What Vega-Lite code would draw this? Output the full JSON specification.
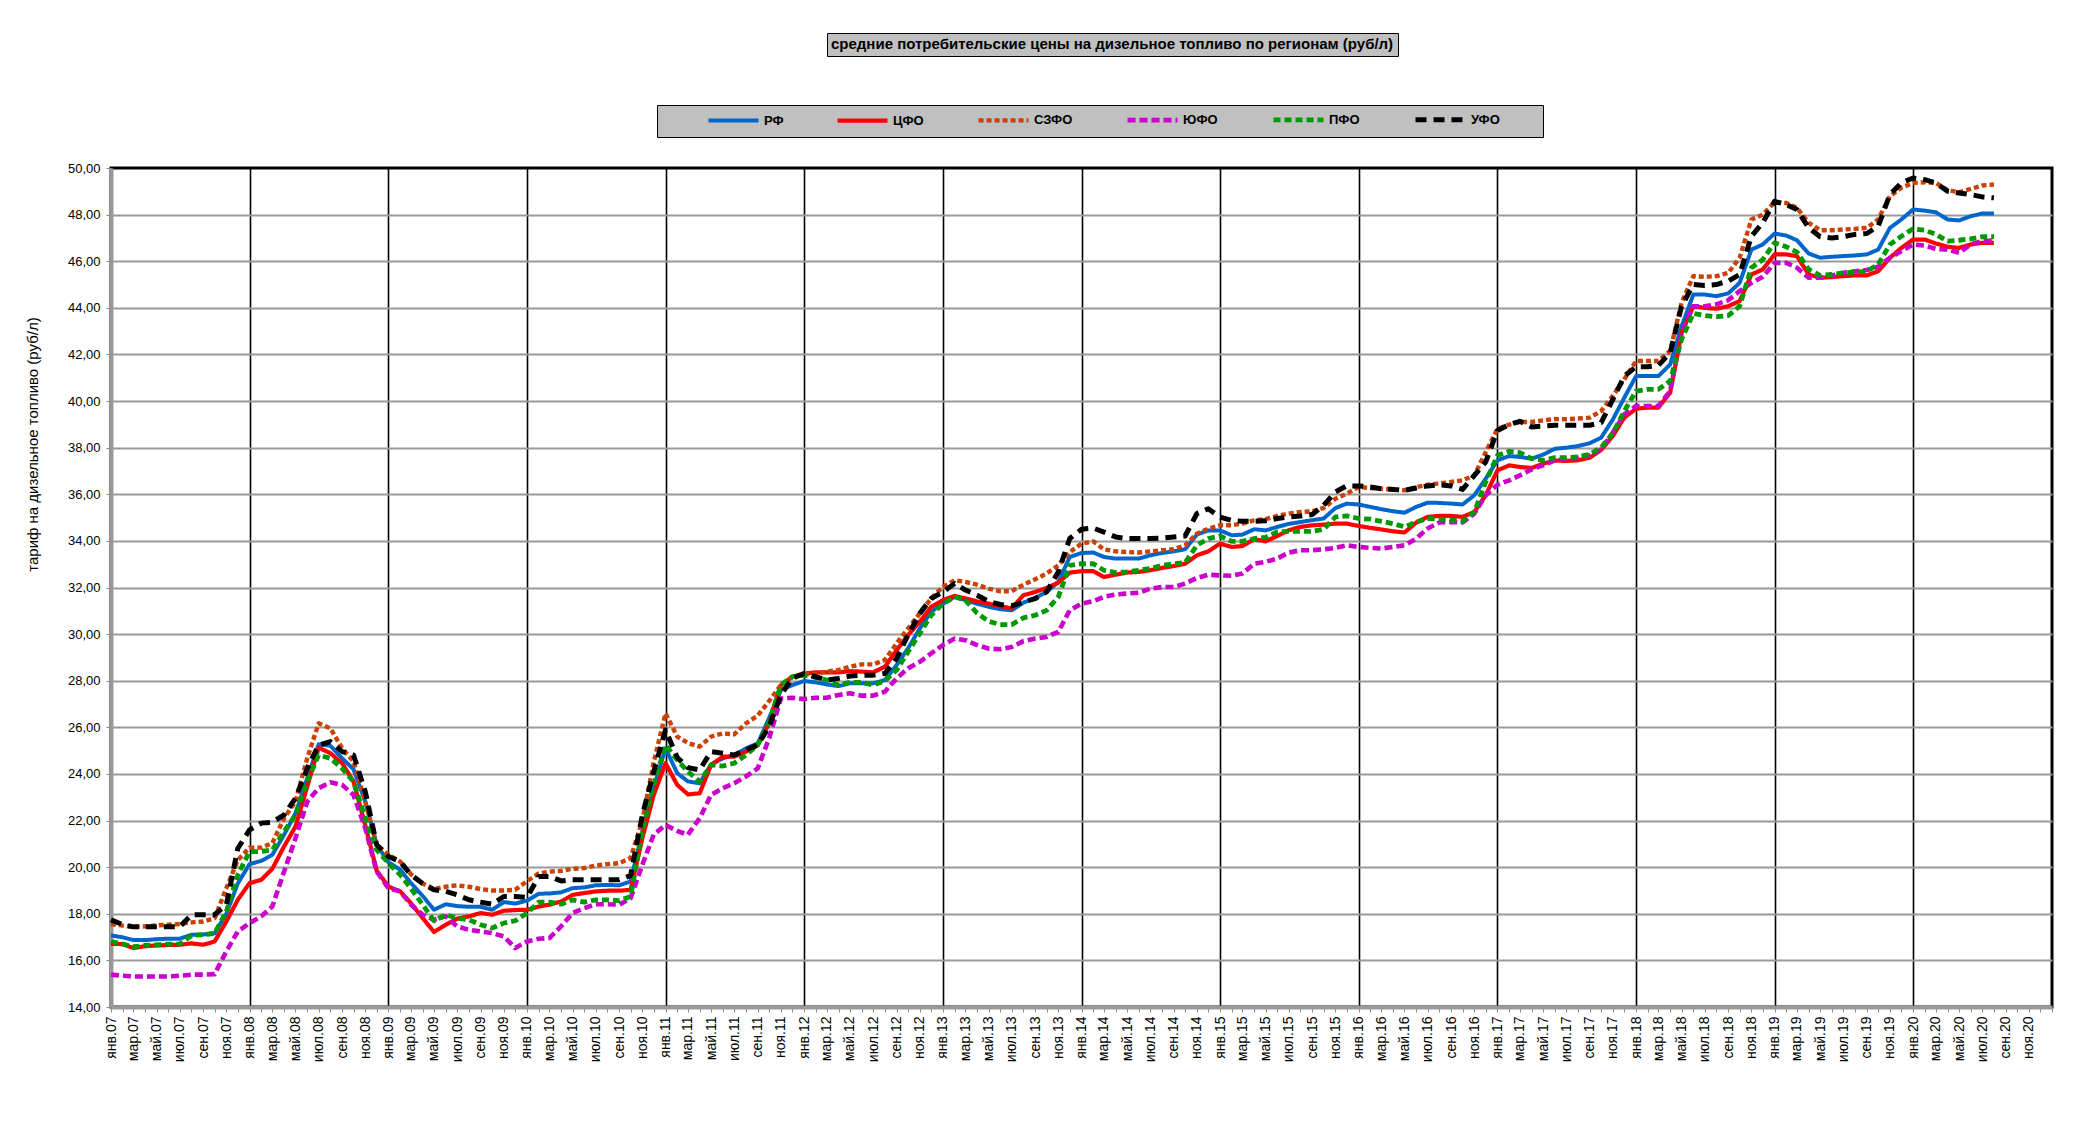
{
"$schema": "https://vega.github.io/schema/vega-lite/v6.json",
"width": 1941, "height": 839,
"autosize": {"type": "none"},
"padding": {"left": 111, "top": 168, "right": 26, "bottom": 116},
"background": "white",
"config": {"font": "Liberation Sans", "view": {"stroke": "#000", "strokeWidth": 3}},
"data": {"values": [
{"d":"2007-01","РФ":17.07,"ЦФО":16.71,"СЗФО":17.56,"ЮФО":15.39,"ПФО":16.81,"УФО":17.74},
{"d":"2007-02","РФ":16.99,"ЦФО":16.70,"СЗФО":17.49,"ЮФО":15.34,"ПФО":16.70,"УФО":17.53},
{"d":"2007-03","РФ":16.87,"ЦФО":16.53,"СЗФО":17.44,"ЮФО":15.31,"ПФО":16.59,"УФО":17.44},
{"d":"2007-04","РФ":16.87,"ЦФО":16.61,"СЗФО":17.46,"ЮФО":15.31,"ПФО":16.64,"УФО":17.44},
{"d":"2007-05","РФ":16.91,"ЦФО":16.64,"СЗФО":17.50,"ЮФО":15.31,"ПФО":16.67,"УФО":17.44},
{"d":"2007-06","РФ":16.93,"ЦФО":16.66,"СЗФО":17.53,"ЮФО":15.31,"ПФО":16.70,"УФО":17.44},
{"d":"2007-07","РФ":16.93,"ЦФО":16.67,"СЗФО":17.56,"ЮФО":15.34,"ПФО":16.70,"УФО":17.44},
{"d":"2007-08","РФ":17.10,"ЦФО":16.73,"СЗФО":17.63,"ЮФО":15.39,"ПФО":17.07,"УФО":17.96},
{"d":"2007-09","РФ":17.11,"ЦФО":16.67,"СЗФО":17.67,"ЮФО":15.39,"ПФО":17.10,"УФО":17.96},
{"d":"2007-10","РФ":17.16,"ЦФО":16.81,"СЗФО":17.81,"ЮФО":15.41,"ПФО":17.16,"УФО":17.96},
{"d":"2007-11","РФ":18.00,"ЦФО":17.67,"СЗФО":19.10,"ЮФО":16.39,"ПФО":18.10,"УФО":18.39},
{"d":"2007-12","РФ":19.30,"ЦФО":18.60,"СЗФО":20.30,"ЮФО":17.24,"ПФО":19.67,"УФО":20.80},
{"d":"2008-01","РФ":20.13,"ЦФО":19.31,"СЗФО":20.84,"ЮФО":17.60,"ПФО":20.67,"УФО":21.60},
{"d":"2008-02","РФ":20.27,"ЦФО":19.46,"СЗФО":20.84,"ЮФО":17.89,"ПФО":20.67,"УФО":21.89},
{"d":"2008-03","РФ":20.53,"ЦФО":19.93,"СЗФО":21.03,"ЮФО":18.31,"ПФО":20.74,"УФО":21.93},
{"d":"2008-04","РФ":21.39,"ЦФО":20.89,"СЗФО":22.10,"ЮФО":19.81,"ПФО":21.53,"УФО":22.24},
{"d":"2008-05","РФ":22.31,"ЦФО":21.74,"СЗФО":22.81,"ЮФО":21.24,"ПФО":22.24,"УФО":22.96},
{"d":"2008-06","РФ":23.81,"ЦФО":23.46,"СЗФО":24.67,"ЮФО":22.81,"ПФО":23.67,"УФО":24.24},
{"d":"2008-07","РФ":25.27,"ЦФО":25.13,"СЗФО":26.17,"ЮФО":23.39,"ПФО":24.81,"УФО":25.24},
{"d":"2008-08","РФ":25.21,"ЦФО":24.89,"СЗФО":25.96,"ЮФО":23.64,"ПФО":24.67,"УФО":25.39},
{"d":"2008-09","РФ":24.67,"ЦФО":24.46,"СЗФО":25.10,"ЮФО":23.53,"ПФО":24.24,"УФО":24.96},
{"d":"2008-10","РФ":24.20,"ЦФО":23.67,"СЗФО":24.53,"ЮФО":23.10,"ПФО":23.67,"УФО":24.81},
{"d":"2008-11","РФ":22.81,"ЦФО":21.80,"СЗФО":22.81,"ЮФО":21.67,"ПФО":22.10,"УФО":23.24},
{"d":"2008-12","РФ":20.96,"ЦФО":19.85,"СЗФО":20.96,"ЮФО":19.81,"ПФО":20.74,"УФО":20.96},
{"d":"2009-01","РФ":20.21,"ЦФО":19.17,"СЗФО":20.53,"ЮФО":19.10,"ПФО":20.17,"УФО":20.46},
{"d":"2009-02","РФ":19.89,"ЦФО":18.96,"СЗФО":20.24,"ЮФО":18.96,"ПФО":19.67,"УФО":20.24},
{"d":"2009-03","РФ":19.32,"ЦФО":18.46,"СЗФО":19.70,"ЮФО":18.40,"ПФО":19.10,"УФО":19.67},
{"d":"2009-04","РФ":18.77,"ЦФО":17.82,"СЗФО":19.30,"ЮФО":17.96,"ПФО":18.39,"УФО":19.30},
{"d":"2009-05","РФ":18.17,"ЦФО":17.22,"СЗФО":19.06,"ЮФО":17.74,"ПФО":17.70,"УФО":19.03},
{"d":"2009-06","РФ":18.41,"ЦФО":17.53,"СЗФО":19.16,"ЮФО":17.89,"ПФО":17.96,"УФО":18.96},
{"d":"2009-07","РФ":18.33,"ЦФО":17.79,"СЗФО":19.22,"ЮФО":17.46,"ПФО":17.81,"УФО":18.81},
{"d":"2009-08","РФ":18.30,"ЦФО":17.89,"СЗФО":19.16,"ЮФО":17.31,"ПФО":17.74,"УФО":18.60},
{"d":"2009-09","РФ":18.30,"ЦФО":18.03,"СЗФО":19.06,"ЮФО":17.24,"ПФО":17.53,"УФО":18.50},
{"d":"2009-10","РФ":18.17,"ЦФО":17.96,"СЗФО":19.00,"ЮФО":17.17,"ПФО":17.39,"УФО":18.41},
{"d":"2009-11","РФ":18.50,"ЦФО":18.13,"СЗФО":19.00,"ЮФО":17.03,"ПФО":17.60,"УФО":18.74},
{"d":"2009-12","РФ":18.44,"ЦФО":18.16,"СЗФО":19.03,"ЮФО":16.53,"ПФО":17.70,"УФО":18.74},
{"d":"2010-01","РФ":18.56,"ЦФО":18.17,"СЗФО":19.40,"ЮФО":16.81,"ПФО":18.03,"УФО":18.70},
{"d":"2010-02","РФ":18.86,"ЦФО":18.31,"СЗФО":19.73,"ЮФО":16.93,"ПФО":18.50,"УФО":19.60},
{"d":"2010-03","РФ":18.87,"ЦФО":18.39,"СЗФО":19.81,"ЮФО":16.96,"ПФО":18.50,"УФО":19.60},
{"d":"2010-04","РФ":18.92,"ЦФО":18.53,"СЗФО":19.84,"ЮФО":17.46,"ПФО":18.41,"УФО":19.41},
{"d":"2010-05","РФ":19.10,"ЦФО":18.81,"СЗФО":19.93,"ЮФО":18.03,"ПФО":18.60,"УФО":19.46},
{"d":"2010-06","РФ":19.13,"ЦФО":18.89,"СЗФО":19.96,"ЮФО":18.24,"ПФО":18.50,"УФО":19.46},
{"d":"2010-07","РФ":19.22,"ЦФО":18.96,"СЗФО":20.07,"ЮФО":18.41,"ПФО":18.60,"УФО":19.46},
{"d":"2010-08","РФ":19.24,"ЦФО":18.99,"СЗФО":20.13,"ЮФО":18.41,"ПФО":18.60,"УФО":19.46},
{"d":"2010-09","РФ":19.22,"ЦФО":18.99,"СЗФО":20.17,"ЮФО":18.39,"ПФО":18.56,"УФО":19.46},
{"d":"2010-10","РФ":19.39,"ЦФО":19.03,"СЗФО":20.39,"ЮФО":18.67,"ПФО":18.74,"УФО":19.64},
{"d":"2010-11","РФ":21.53,"ЦФО":21.24,"СЗФО":22.00,"ЮФО":20.10,"ПФО":21.53,"УФО":22.24},
{"d":"2010-12","РФ":23.40,"ЦФО":23.10,"СЗФО":24.50,"ЮФО":21.40,"ПФО":23.53,"УФО":24.10},
{"d":"2011-01","РФ":25.10,"ЦФО":24.46,"СЗФО":26.60,"ЮФО":21.81,"ПФО":25.24,"УФО":25.89},
{"d":"2011-02","РФ":24.03,"ЦФО":23.53,"СЗФО":25.60,"ЮФО":21.55,"ПФО":24.60,"УФО":24.70},
{"d":"2011-03","РФ":23.68,"ЦФО":23.12,"СЗФО":25.33,"ЮФО":21.39,"ПФО":24.10,"УФО":24.27},
{"d":"2011-04","РФ":23.60,"ЦФО":23.17,"СЗФО":25.17,"ЮФО":22.10,"ПФО":23.67,"УФО":24.17},
{"d":"2011-05","РФ":24.41,"ЦФО":24.39,"СЗФО":25.60,"ЮФО":23.10,"ПФО":24.39,"УФО":24.96},
{"d":"2011-06","РФ":24.67,"ЦФО":24.74,"СЗФО":25.74,"ЮФО":23.39,"ПФО":24.34,"УФО":24.89},
{"d":"2011-07","РФ":24.81,"ЦФО":24.74,"СЗФО":25.70,"ЮФО":23.60,"ПФО":24.46,"УФО":24.81},
{"d":"2011-08","РФ":25.10,"ЦФО":24.96,"СЗФО":26.17,"ЮФО":23.89,"ПФО":24.81,"УФО":25.03},
{"d":"2011-09","РФ":25.31,"ЦФО":25.24,"СЗФО":26.50,"ЮФО":24.24,"ПФО":25.24,"УФО":25.24},
{"d":"2011-10","РФ":26.40,"ЦФО":26.17,"СЗФО":27.13,"ЮФО":25.53,"ПФО":26.24,"УФО":26.03},
{"d":"2011-11","РФ":27.60,"ЦФО":27.81,"СЗФО":27.81,"ЮФО":27.24,"ПФО":27.81,"УФО":27.39},
{"d":"2011-12","РФ":27.81,"ЦФО":28.17,"СЗФО":28.17,"ЮФО":27.27,"ПФО":28.17,"УФО":28.10},
{"d":"2012-01","РФ":27.99,"ЦФО":28.31,"СЗФО":28.27,"ЮФО":27.21,"ПФО":28.24,"УФО":28.31},
{"d":"2012-02","РФ":27.93,"ЦФО":28.36,"СЗФО":28.31,"ЮФО":27.27,"ПФО":28.13,"УФО":28.17},
{"d":"2012-03","РФ":27.84,"ЦФО":28.36,"СЗФО":28.39,"ЮФО":27.27,"ПФО":28.03,"УФО":28.03},
{"d":"2012-04","РФ":27.77,"ЦФО":28.36,"СЗФО":28.46,"ЮФО":27.39,"ПФО":27.81,"УФО":28.10},
{"d":"2012-05","РФ":27.89,"ЦФО":28.41,"СЗФО":28.60,"ЮФО":27.46,"ПФО":27.93,"УФО":28.20},
{"d":"2012-06","РФ":27.89,"ЦФО":28.39,"СЗФО":28.70,"ЮФО":27.36,"ПФО":27.93,"УФО":28.24},
{"d":"2012-07","РФ":27.89,"ЦФО":28.36,"СЗФО":28.70,"ЮФО":27.36,"ПФО":27.81,"УФО":28.24},
{"d":"2012-08","РФ":28.03,"ЦФО":28.60,"СЗФО":28.89,"ЮФО":27.53,"ПФО":27.99,"УФО":28.31},
{"d":"2012-09","РФ":28.67,"ЦФО":29.31,"СЗФО":29.60,"ЮФО":28.10,"ПФО":28.46,"УФО":28.96},
{"d":"2012-10","РФ":29.39,"ЦФО":29.96,"СЗФО":30.24,"ЮФО":28.53,"ПФО":29.24,"УФО":29.96},
{"d":"2012-11","РФ":30.24,"ЦФО":30.53,"СЗФО":30.89,"ЮФО":28.81,"ПФО":30.03,"УФО":30.89},
{"d":"2012-12","РФ":30.96,"ЦФО":31.17,"СЗФО":31.53,"ЮФО":29.17,"ПФО":30.81,"УФО":31.53},
{"d":"2013-01","РФ":31.31,"ЦФО":31.46,"СЗФО":32.03,"ЮФО":29.53,"ПФО":31.31,"УФО":31.81},
{"d":"2013-02","РФ":31.60,"ЦФО":31.64,"СЗФО":32.31,"ЮФО":29.81,"ПФО":31.60,"УФО":32.17},
{"d":"2013-03","РФ":31.46,"ЦФО":31.53,"СЗФО":32.24,"ЮФО":29.74,"ПФО":31.46,"УФО":31.89},
{"d":"2013-04","РФ":31.30,"ЦФО":31.40,"СЗФО":32.12,"ЮФО":29.53,"ПФО":30.90,"УФО":31.67},
{"d":"2013-05","РФ":31.17,"ЦФО":31.31,"СЗФО":31.95,"ЮФО":29.38,"ПФО":30.55,"УФО":31.41},
{"d":"2013-06","РФ":31.07,"ЦФО":31.20,"СЗФО":31.84,"ЮФО":29.35,"ПФО":30.41,"УФО":31.27},
{"d":"2013-07","РФ":31.02,"ЦФО":31.10,"СЗФО":31.84,"ЮФО":29.45,"ПФО":30.41,"УФО":31.21},
{"d":"2013-08","РФ":31.35,"ЦФО":31.67,"СЗФО":32.12,"ЮФО":29.70,"ПФО":30.70,"УФО":31.38},
{"d":"2013-09","РФ":31.55,"ЦФО":31.81,"СЗФО":32.35,"ЮФО":29.81,"ПФО":30.81,"УФО":31.52},
{"d":"2013-10","РФ":31.81,"ЦФО":31.98,"СЗФО":32.60,"ЮФО":29.88,"ПФО":31.02,"УФО":31.81},
{"d":"2013-11","РФ":32.24,"ЦФО":32.21,"СЗФО":32.95,"ЮФО":30.10,"ПФО":31.60,"УФО":32.67},
{"d":"2013-12","РФ":33.31,"ЦФО":32.64,"СЗФО":33.52,"ЮФО":31.02,"ПФО":32.95,"УФО":34.10},
{"d":"2014-01","РФ":33.48,"ЦФО":32.70,"СЗФО":33.88,"ЮФО":31.31,"ПФО":33.02,"УФО":34.50},
{"d":"2014-02","РФ":33.50,"ЦФО":32.70,"СЗФО":33.98,"ЮФО":31.41,"ПФО":33.02,"УФО":34.55},
{"d":"2014-03","РФ":33.31,"ЦФО":32.45,"СЗФО":33.64,"ЮФО":31.60,"ПФО":32.74,"УФО":34.38},
{"d":"2014-04","РФ":33.24,"ЦФО":32.55,"СЗФО":33.55,"ЮФО":31.70,"ПФО":32.64,"УФО":34.17},
{"d":"2014-05","РФ":33.24,"ЦФО":32.64,"СЗФО":33.52,"ЮФО":31.74,"ПФО":32.67,"УФО":34.10},
{"d":"2014-06","РФ":33.24,"ЦФО":32.67,"СЗФО":33.50,"ЮФО":31.78,"ПФО":32.74,"УФО":34.10},
{"d":"2014-07","РФ":33.38,"ЦФО":32.74,"СЗФО":33.55,"ЮФО":31.95,"ПФО":32.81,"УФО":34.10},
{"d":"2014-08","РФ":33.48,"ЦФО":32.84,"СЗФО":33.60,"ЮФО":32.02,"ПФО":32.95,"УФО":34.12},
{"d":"2014-09","РФ":33.55,"ЦФО":32.92,"СЗФО":33.64,"ЮФО":32.02,"ПФО":33.02,"УФО":34.17},
{"d":"2014-10","РФ":33.64,"ЦФО":33.02,"СЗФО":33.81,"ЮФО":32.17,"ПФО":33.07,"УФО":34.21},
{"d":"2014-11","РФ":34.27,"ЦФО":33.38,"СЗФО":34.31,"ЮФО":32.41,"ПФО":33.81,"УФО":35.17},
{"d":"2014-12","РФ":34.45,"ЦФО":33.55,"СЗФО":34.52,"ЮФО":32.55,"ПФО":34.10,"УФО":35.38},
{"d":"2015-01","РФ":34.45,"ЦФО":33.88,"СЗФО":34.67,"ЮФО":32.52,"ПФО":34.21,"УФО":35.02},
{"d":"2015-02","РФ":34.24,"ЦФО":33.74,"СЗФО":34.67,"ЮФО":32.50,"ПФО":33.98,"УФО":34.88},
{"d":"2015-03","РФ":34.27,"ЦФО":33.78,"СЗФО":34.74,"ЮФО":32.60,"ПФО":33.98,"УФО":34.84},
{"d":"2015-04","РФ":34.50,"ЦФО":34.07,"СЗФО":34.88,"ЮФО":33.02,"ПФО":34.10,"УФО":34.84},
{"d":"2015-05","РФ":34.45,"ЦФО":33.98,"СЗФО":34.93,"ЮФО":33.10,"ПФО":34.15,"УФО":34.86},
{"d":"2015-06","РФ":34.60,"ЦФО":34.21,"СЗФО":35.07,"ЮФО":33.24,"ПФО":34.39,"УФО":34.96},
{"d":"2015-07","РФ":34.73,"ЦФО":34.46,"СЗФО":35.17,"ЮФО":33.50,"ПФО":34.41,"УФО":35.03},
{"d":"2015-08","РФ":34.81,"ЦФО":34.60,"СЗФО":35.24,"ЮФО":33.60,"ПФО":34.41,"УФО":35.07},
{"d":"2015-09","РФ":34.89,"ЦФО":34.67,"СЗФО":35.27,"ЮФО":33.60,"ПФО":34.41,"УФО":35.13},
{"d":"2015-10","РФ":34.96,"ЦФО":34.70,"СЗФО":35.41,"ЮФО":33.64,"ПФО":34.50,"УФО":35.53},
{"d":"2015-11","РФ":35.41,"ЦФО":34.74,"СЗФО":35.81,"ЮФО":33.70,"ПФО":35.03,"УФО":36.10},
{"d":"2015-12","РФ":35.60,"ЦФО":34.74,"СЗФО":36.03,"ЮФО":33.81,"ПФО":35.07,"УФО":36.36},
{"d":"2016-01","РФ":35.56,"ЦФО":34.64,"СЗФО":36.31,"ЮФО":33.74,"ПФО":34.96,"УФО":36.36},
{"d":"2016-02","РФ":35.46,"ЦФО":34.56,"СЗФО":36.27,"ЮФО":33.70,"ПФО":34.93,"УФО":36.31},
{"d":"2016-03","РФ":35.36,"ЦФО":34.49,"СЗФО":36.24,"ЮФО":33.67,"ПФО":34.84,"УФО":36.24},
{"d":"2016-04","РФ":35.27,"ЦФО":34.41,"СЗФО":36.21,"ЮФО":33.74,"ПФО":34.74,"УФО":36.21},
{"d":"2016-05","РФ":35.21,"ЦФО":34.36,"СЗФО":36.17,"ЮФО":33.81,"ПФО":34.60,"УФО":36.17},
{"d":"2016-06","РФ":35.46,"ЦФО":34.79,"СЗФО":36.31,"ЮФО":34.10,"ПФО":34.81,"УФО":36.27},
{"d":"2016-07","РФ":35.64,"ЦФО":35.03,"СЗФО":36.41,"ЮФО":34.53,"ПФО":34.96,"УФО":36.36},
{"d":"2016-08","РФ":35.63,"ЦФО":35.07,"СЗФО":36.46,"ЮФО":34.79,"ПФО":34.93,"УФО":36.41},
{"d":"2016-09","РФ":35.60,"ЦФО":35.07,"СЗФО":36.53,"ЮФО":34.81,"ПФО":34.89,"УФО":36.36},
{"d":"2016-10","РФ":35.56,"ЦФО":35.03,"СЗФО":36.60,"ЮФО":34.79,"ПФО":34.84,"УФО":36.21},
{"d":"2016-11","РФ":35.96,"ЦФО":35.24,"СЗФО":36.81,"ЮФО":35.17,"ПФО":35.24,"УФО":36.81},
{"d":"2016-12","РФ":36.67,"ЦФО":35.96,"СЗФО":37.81,"ЮФО":35.96,"ПФО":36.53,"УФО":37.39},
{"d":"2017-01","РФ":37.46,"ЦФО":37.03,"СЗФО":38.81,"ЮФО":36.41,"ПФО":37.67,"УФО":38.74},
{"d":"2017-02","РФ":37.64,"ЦФО":37.24,"СЗФО":38.99,"ЮФО":36.60,"ПФО":37.84,"УФО":38.99},
{"d":"2017-03","РФ":37.60,"ЦФО":37.17,"СЗФО":39.10,"ЮФО":36.81,"ПФО":37.79,"УФО":39.13},
{"d":"2017-04","РФ":37.53,"ЦФО":37.13,"СЗФО":39.10,"ЮФО":37.07,"ПФО":37.53,"УФО":38.89},
{"d":"2017-05","РФ":37.70,"ЦФО":37.31,"СЗФО":39.17,"ЮФО":37.24,"ПФО":37.46,"УФО":38.93},
{"d":"2017-06","РФ":37.95,"ЦФО":37.45,"СЗФО":39.23,"ЮФО":37.45,"ПФО":37.57,"УФО":38.96},
{"d":"2017-07","РФ":38.00,"ЦФО":37.43,"СЗФО":39.22,"ЮФО":37.50,"ПФО":37.57,"УФО":38.96},
{"d":"2017-08","РФ":38.07,"ЦФО":37.46,"СЗФО":39.25,"ЮФО":37.57,"ПФО":37.60,"УФО":38.96},
{"d":"2017-09","РФ":38.19,"ЦФО":37.57,"СЗФО":39.29,"ЮФО":37.67,"ПФО":37.72,"УФО":38.96},
{"d":"2017-10","РФ":38.43,"ЦФО":37.90,"СЗФО":39.57,"ЮФО":37.93,"ПФО":38.00,"УФО":39.07},
{"d":"2017-11","РФ":39.21,"ЦФО":38.50,"СЗФО":40.22,"ЮФО":38.65,"ПФО":38.62,"УФО":40.07},
{"d":"2017-12","РФ":40.14,"ЦФО":39.29,"СЗФО":40.93,"ЮФО":39.43,"ПФО":39.57,"УФО":41.07},
{"d":"2018-01","РФ":41.07,"ЦФО":39.67,"СЗФО":41.72,"ЮФО":39.79,"ПФО":40.43,"УФО":41.47},
{"d":"2018-02","РФ":41.07,"ЦФО":39.72,"СЗФО":41.72,"ЮФО":39.79,"ПФО":40.50,"УФО":41.47},
{"d":"2018-03","РФ":41.07,"ЦФО":39.72,"СЗФО":41.72,"ЮФО":39.79,"ПФО":40.50,"УФО":41.53},
{"d":"2018-04","РФ":41.57,"ЦФО":40.36,"СЗФО":42.15,"ЮФО":40.43,"ПФО":40.86,"УФО":42.07},
{"d":"2018-05","РФ":43.20,"ЦФО":42.93,"СЗФО":44.22,"ЮФО":42.93,"ПФО":42.65,"УФО":44.07},
{"d":"2018-06","РФ":44.57,"ЦФО":44.07,"СЗФО":45.36,"ЮФО":44.07,"ПФО":43.76,"УФО":45.00},
{"d":"2018-07","РФ":44.57,"ЦФО":44.00,"СЗФО":45.33,"ЮФО":44.07,"ПФО":43.67,"УФО":44.96},
{"d":"2018-08","РФ":44.50,"ЦФО":43.96,"СЗФО":45.36,"ЮФО":44.15,"ПФО":43.62,"УФО":45.00},
{"d":"2018-09","РФ":44.62,"ЦФО":44.07,"СЗФО":45.50,"ЮФО":44.33,"ПФО":43.67,"УФО":45.15},
{"d":"2018-10","РФ":45.07,"ЦФО":44.29,"СЗФО":46.15,"ЮФО":44.72,"ПФО":44.07,"УФО":45.43},
{"d":"2018-11","РФ":46.50,"ЦФО":45.43,"СЗФО":47.79,"ЮФО":45.07,"ПФО":45.72,"УФО":47.07},
{"d":"2018-12","РФ":46.72,"ЦФО":45.65,"СЗФО":48.00,"ЮФО":45.33,"ПФО":46.07,"УФО":47.65},
{"d":"2019-01","РФ":47.19,"ЦФО":46.29,"СЗФО":48.53,"ЮФО":45.93,"ПФО":46.79,"УФО":48.57},
{"d":"2019-02","РФ":47.10,"ЦФО":46.29,"СЗФО":48.50,"ЮФО":45.93,"ПФО":46.62,"УФО":48.43},
{"d":"2019-03","РФ":46.90,"ЦФО":46.22,"СЗФО":48.29,"ЮФО":45.72,"ПФО":46.39,"УФО":48.22},
{"d":"2019-04","РФ":46.33,"ЦФО":45.43,"СЗФО":47.65,"ЮФО":45.29,"ПФО":45.65,"УФО":47.43},
{"d":"2019-05","РФ":46.15,"ЦФО":45.29,"СЗФО":47.33,"ЮФО":45.29,"ПФО":45.39,"УФО":47.05},
{"d":"2019-06","РФ":46.19,"ЦФО":45.32,"СЗФО":47.33,"ЮФО":45.39,"ПФО":45.43,"УФО":47.00},
{"d":"2019-07","РФ":46.22,"ЦФО":45.36,"СЗФО":47.36,"ЮФО":45.50,"ПФО":45.50,"УФО":47.05},
{"d":"2019-08","РФ":46.25,"ЦФО":45.39,"СЗФО":47.39,"ЮФО":45.57,"ПФО":45.53,"УФО":47.15},
{"d":"2019-09","РФ":46.29,"ЦФО":45.39,"СЗФО":47.43,"ЮФО":45.62,"ПФО":45.57,"УФО":47.19},
{"d":"2019-10","РФ":46.50,"ЦФО":45.57,"СЗФО":47.79,"ЮФО":45.76,"ПФО":45.86,"УФО":47.50},
{"d":"2019-11","РФ":47.43,"ЦФО":46.15,"СЗФО":48.79,"ЮФО":46.15,"ПФО":46.72,"УФО":48.86},
{"d":"2019-12","РФ":47.79,"ЦФО":46.57,"СЗФО":49.15,"ЮФО":46.43,"ПФО":47.07,"УФО":49.36},
{"d":"2020-01","РФ":48.22,"ЦФО":46.93,"СЗФО":49.36,"ЮФО":46.72,"ПФО":47.39,"УФО":49.57},
{"d":"2020-02","РФ":48.17,"ЦФО":46.93,"СЗФО":49.39,"ЮФО":46.67,"ПФО":47.33,"УФО":49.50},
{"d":"2020-03","РФ":48.10,"ЦФО":46.76,"СЗФО":49.36,"ЮФО":46.53,"ПФО":47.15,"УФО":49.36},
{"d":"2020-04","РФ":47.79,"ЦФО":46.62,"СЗФО":49.05,"ЮФО":46.50,"ПФО":46.86,"УФО":49.00},
{"d":"2020-05","РФ":47.75,"ЦФО":46.57,"СЗФО":48.96,"ЮФО":46.36,"ПФО":46.90,"УФО":48.93},
{"d":"2020-06","РФ":47.93,"ЦФО":46.72,"СЗФО":49.10,"ЮФО":46.72,"ПФО":46.96,"УФО":48.86},
{"d":"2020-07","РФ":48.05,"ЦФО":46.79,"СЗФО":49.25,"ЮФО":46.86,"ПФО":47.05,"УФО":48.76},
{"d":"2020-08","РФ":48.05,"ЦФО":46.79,"СЗФО":49.29,"ЮФО":46.90,"ПФО":47.05,"УФО":48.72}
]},
"transform": [{"fold": ["РФ","ЦФО","СЗФО","ЮФО","ПФО","УФО"], "as": ["series","value"]}],
"mark": {"type": "line", "strokeJoin": "round"},
"encoding": {
  "x": {"field": "d", "type": "temporal",
    "scale": {"type": "utc", "domain": [{"year": 2007, "month": 1, "date": 1, "utc": true}, {"year": 2021, "month": 1, "date": 1, "utc": true}]},
    "axis": {"title": null, "tickCount": {"interval": "month", "step": 1},
      "labelExpr": "utcmonth(datum.value) % 2 == 1 || datum.value >= 1609459200000 ? '' : ['янв','фев','мар','апр','май','июн','июл','авг','сен','окт','ноя','дек'][utcmonth(datum.value)] + '.' + utcFormat(datum.value, '%y')",
      "labelAngle": -90, "labelFontSize": 14, "labelColor": "#000", "labelPadding": 4, "labelOverlap": false, "labelFlush": false, "labelBound": false,
      "tickSize": 5, "tickColor": "#888", "tickWidth": 1, "domainColor": "#999", "domainWidth": 4,
      "grid": true, "gridColor": {"condition": {"test": "utcmonth(datum.value) == 0 && datum.value > 1167609600000 && datum.value < 1609459200000", "value": "#000000"}, "value": "transparent"}, "gridWidth": 1.6}},
  "y": {"field": "value", "type": "quantitative",
    "scale": {"domain": [14, 50], "nice": false, "zero": false},
    "axis": {"title": "тариф на дизельное топливо (руб/л)", "values": [14,16,18,20,22,24,26,28,30,32,34,36,38,40,42,44,46,48,50],
      "labelExpr": "replace(format(datum.value, '.2f'), '.', ',')", "labelFontSize": 13, "labelColor": "#000", "labelPadding": 6,
      "tickSize": 5, "tickColor": "#888", "domainColor": "#999", "domainWidth": 4,
      "gridColor": {"condition": {"test": "datum.value == 50 || datum.value == 14", "value": "transparent"}, "value": "#9a9a9a"}, "gridWidth": 2,
      "titleFontSize": 15, "titleFontWeight": "normal", "titleColor": "#000", "titleX": -79, "titleY": 276, "titleAlign": "center", "titleBaseline": "middle"}},
  "color": {"field": "series", "type": "nominal",
    "scale": {"domain": ["РФ","ЦФО","СЗФО","ЮФО","ПФО","УФО"], "range": ["#0066CC","#FF0000","#CC4000","#CC00CC","#009900","#000000"]},
    "legend": {"orient": "none", "legendX": 546, "legendY": -63, "direction": "horizontal", "columns": 6,
      "title": "\u00a0", "titleOrient": "left", "titlePadding": 42,
      "fillColor": "#c0c0c0", "strokeColor": "#000", "padding": 7, "columnPadding": 45,
      "symbolType": "M-5,0L5,0", "symbolSize": 100, "symbolOffset": 20, "labelOffset": 23,
      "labelFontSize": 13, "labelFontWeight": "bold", "labelColor": "#000",
      "labelExpr": "datum.value == 'УФО' ? 'УФО\u00a0\u00a0\u00a0\u00a0\u00a0\u00a0\u00a0\u00a0\u00a0\u00a0\u200b' : datum.label"}},
  "strokeDash": {"field": "series", "type": "nominal",
    "scale": {"domain": ["РФ","ЦФО","СЗФО","ЮФО","ПФО","УФО"], "range": [[1,0],[1,0],[5,3],[8,4],[7,4],[11,7]]}},
  "strokeWidth": {"field": "series", "type": "nominal",
    "scale": {"domain": ["РФ","ЦФО","СЗФО","ЮФО","ПФО","УФО"], "range": [4,5,2,2,2.5,2.5]}},
  "opacity": {"datum": "t1", "type": "nominal", "scale": {"domain": ["t1"], "range": [1, 1]},
    "legend": {"orient": "none", "legendX": 716, "legendY": -135, "values": [],
      "title": "средние потребительские цены на дизельное топливо по регионам (руб/л)",
      "titleFontSize": 15, "titleFontWeight": "bold", "titleColor": "#000", "titleLimit": 2000, "titlePadding": 0,
      "fillColor": "#c0c0c0", "strokeColor": "#000", "padding": 4}}
}
}
